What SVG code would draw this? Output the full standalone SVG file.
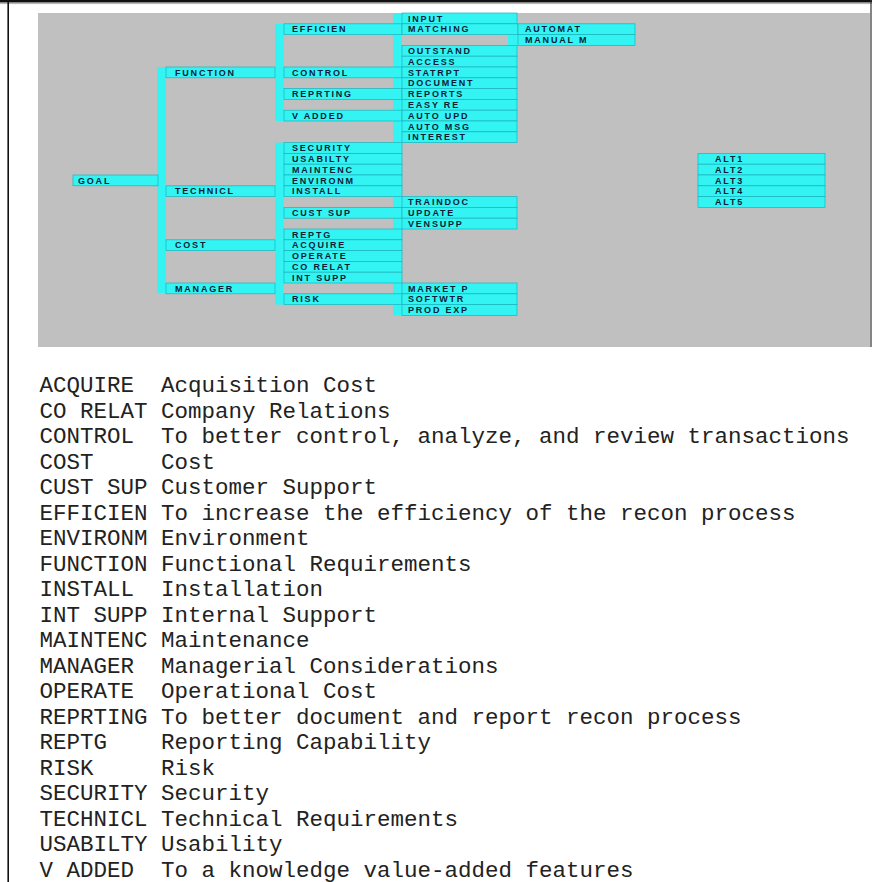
<svg xmlns="http://www.w3.org/2000/svg" width="872" height="882" viewBox="0 0 872 882">
<style>
.row{fill:#33f3f3;stroke:#19b4bc;stroke-width:0.7}
.bar{fill:#33f3f3}
.lbl{font-family:"Liberation Sans",Arial,sans-serif;font-size:9px;font-weight:bold;letter-spacing:1.8px;fill:#0d1d38}
.code,.desc{font-family:"Liberation Mono","Courier New",monospace;font-size:22.5px;fill:#222}
</style>
<rect x="0" y="0" width="872" height="882" fill="#ffffff"/>
<!-- frame -->
<rect x="0" y="0" width="872" height="2.5" fill="#111"/>
<line x1="0" y1="3.6" x2="872" y2="3.6" stroke="#9a9a9a" stroke-width="0.8"/>
<line x1="8.2" y1="0" x2="8.2" y2="882" stroke="#111" stroke-width="1.6"/>
<line x1="871" y1="0" x2="871" y2="347" stroke="#333" stroke-width="1.2"/>
<!-- gray panel -->
<rect x="38" y="13" width="832" height="334" fill="#c0c0c0"/>

<g id="connectors">
<rect class="bar" x="157" y="67" width="9" height="226"/>
<rect class="bar" x="275" y="23.8" width="9" height="97.2"/>
<rect class="bar" x="275" y="142.6" width="9" height="162"/>
<rect class="bar" x="393" y="13" width="9" height="129.6"/>
<rect class="bar" x="393" y="196.6" width="9" height="32.4"/>
<rect class="bar" x="393" y="283" width="9" height="32.4"/>
<rect class="bar" x="508" y="23.8" width="10" height="21.6"/>
</g>

<g id="goal"><rect class="row" x="73" y="175" width="85" height="10.8"/><text class="lbl" x="78" y="183.5">GOAL</text></g>

<g id="function"><rect class="row" x="166" y="67" width="109" height="10.8"/><text class="lbl" x="175" y="75.5">FUNCTION</text></g>
<g id="technicl"><rect class="row" x="166" y="185.8" width="109" height="10.8"/><text class="lbl" x="175" y="194.3">TECHNICL</text></g>
<g id="cost"><rect class="row" x="166" y="239.8" width="109" height="10.8"/><text class="lbl" x="175" y="248.3">COST</text></g>
<g id="manager"><rect class="row" x="166" y="283" width="109" height="10.8"/><text class="lbl" x="175" y="291.5">MANAGER</text></g>

<g id="efficien"><rect class="row" x="284" y="23.8" width="118" height="10.8"/><text class="lbl" x="292" y="32.3">EFFICIEN</text></g>
<g id="control"><rect class="row" x="284" y="67" width="118" height="10.8"/><text class="lbl" x="292" y="75.5">CONTROL</text></g>
<g id="reprting"><rect class="row" x="284" y="88.6" width="118" height="10.8"/><text class="lbl" x="292" y="97.1">REPRTING</text></g>
<g id="v_added"><rect class="row" x="284" y="110.2" width="118" height="10.8"/><text class="lbl" x="292" y="118.7">V ADDED</text></g>
<g id="security"><rect class="row" x="284" y="142.6" width="118" height="10.8"/><text class="lbl" x="292" y="151.1">SECURITY</text></g>
<g id="usabilty"><rect class="row" x="284" y="153.4" width="118" height="10.8"/><text class="lbl" x="292" y="161.9">USABILTY</text></g>
<g id="maintenc"><rect class="row" x="284" y="164.2" width="118" height="10.8"/><text class="lbl" x="292" y="172.7">MAINTENC</text></g>
<g id="environm"><rect class="row" x="284" y="175" width="118" height="10.8"/><text class="lbl" x="292" y="183.5">ENVIRONM</text></g>
<g id="install"><rect class="row" x="284" y="185.8" width="118" height="10.8"/><text class="lbl" x="292" y="194.3">INSTALL</text></g>
<g id="cust_sup"><rect class="row" x="284" y="207.4" width="118" height="10.8"/><text class="lbl" x="292" y="215.9">CUST SUP</text></g>
<g id="reptg"><rect class="row" x="284" y="229" width="118" height="10.8"/><text class="lbl" x="292" y="237.5">REPTG</text></g>
<g id="acquire"><rect class="row" x="284" y="239.8" width="118" height="10.8"/><text class="lbl" x="292" y="248.3">ACQUIRE</text></g>
<g id="operate"><rect class="row" x="284" y="250.6" width="118" height="10.8"/><text class="lbl" x="292" y="259.1">OPERATE</text></g>
<g id="co_relat"><rect class="row" x="284" y="261.4" width="118" height="10.8"/><text class="lbl" x="292" y="269.9">CO RELAT</text></g>
<g id="int_supp"><rect class="row" x="284" y="272.2" width="118" height="10.8"/><text class="lbl" x="292" y="280.7">INT SUPP</text></g>
<g id="risk"><rect class="row" x="284" y="293.8" width="118" height="10.8"/><text class="lbl" x="292" y="302.3">RISK</text></g>

<g id="input"><rect class="row" x="402" y="13" width="115" height="10.8"/><text class="lbl" x="408" y="21.5">INPUT</text></g>
<g id="matching"><rect class="row" x="402" y="23.8" width="116" height="10.8"/><text class="lbl" x="408" y="32.3">MATCHING</text></g>
<g id="outstand"><rect class="row" x="402" y="45.4" width="115" height="10.8"/><text class="lbl" x="408" y="53.9">OUTSTAND</text></g>
<g id="access"><rect class="row" x="402" y="56.2" width="115" height="10.8"/><text class="lbl" x="408" y="64.7">ACCESS</text></g>
<g id="statrpt"><rect class="row" x="402" y="67" width="115" height="10.8"/><text class="lbl" x="408" y="75.5">STATRPT</text></g>
<g id="document"><rect class="row" x="402" y="77.8" width="115" height="10.8"/><text class="lbl" x="408" y="86.3">DOCUMENT</text></g>
<g id="reports"><rect class="row" x="402" y="88.6" width="115" height="10.8"/><text class="lbl" x="408" y="97.1">REPORTS</text></g>
<g id="easy_re"><rect class="row" x="402" y="99.4" width="115" height="10.8"/><text class="lbl" x="408" y="107.9">EASY RE</text></g>
<g id="auto_upd"><rect class="row" x="402" y="110.2" width="115" height="10.8"/><text class="lbl" x="408" y="118.7">AUTO UPD</text></g>
<g id="auto_msg"><rect class="row" x="402" y="121" width="115" height="10.8"/><text class="lbl" x="408" y="129.5">AUTO MSG</text></g>
<g id="interest"><rect class="row" x="402" y="131.8" width="115" height="10.8"/><text class="lbl" x="408" y="140.3">INTEREST</text></g>
<g id="traindoc"><rect class="row" x="402" y="196.6" width="115" height="10.8"/><text class="lbl" x="408" y="205.1">TRAINDOC</text></g>
<g id="update"><rect class="row" x="402" y="207.4" width="115" height="10.8"/><text class="lbl" x="408" y="215.9">UPDATE</text></g>
<g id="vensupp"><rect class="row" x="402" y="218.2" width="115" height="10.8"/><text class="lbl" x="408" y="226.7">VENSUPP</text></g>
<g id="market_p"><rect class="row" x="402" y="283" width="115" height="10.8"/><text class="lbl" x="408" y="291.5">MARKET P</text></g>
<g id="softwtr"><rect class="row" x="402" y="293.8" width="115" height="10.8"/><text class="lbl" x="408" y="302.3">SOFTWTR</text></g>
<g id="prod_exp"><rect class="row" x="402" y="304.6" width="115" height="10.8"/><text class="lbl" x="408" y="313.1">PROD EXP</text></g>

<g id="automat"><rect class="row" x="518" y="23.8" width="117" height="10.8"/><text class="lbl" x="525" y="32.3">AUTOMAT</text></g>
<g id="manual_m"><rect class="row" x="518" y="34.6" width="117" height="10.8"/><text class="lbl" x="525" y="43.1">MANUAL M</text></g>

<g id="alt1"><rect class="row" x="698" y="153.4" width="127" height="10.8"/><text class="lbl" x="715" y="161.9">ALT1</text></g>
<g id="alt2"><rect class="row" x="698" y="164.2" width="127" height="10.8"/><text class="lbl" x="715" y="172.7">ALT2</text></g>
<g id="alt3"><rect class="row" x="698" y="175" width="127" height="10.8"/><text class="lbl" x="715" y="183.5">ALT3</text></g>
<g id="alt4"><rect class="row" x="698" y="185.8" width="127" height="10.8"/><text class="lbl" x="715" y="194.3">ALT4</text></g>
<g id="alt5"><rect class="row" x="698" y="196.6" width="127" height="10.8"/><text class="lbl" x="715" y="205.1">ALT5</text></g>

<g id="legend">
<text class="code" x="39.5" y="392">ACQUIRE</text><text class="desc" x="161" y="392">Acquisition Cost</text>
<text class="code" x="39.5" y="417.5">CO RELAT</text><text class="desc" x="161" y="417.5">Company Relations</text>
<text class="code" x="39.5" y="443">CONTROL</text><text class="desc" x="161" y="443">To better control, analyze, and review transactions</text>
<text class="code" x="39.5" y="468.5">COST</text><text class="desc" x="161" y="468.5">Cost</text>
<text class="code" x="39.5" y="494">CUST SUP</text><text class="desc" x="161" y="494">Customer Support</text>
<text class="code" x="39.5" y="519.5">EFFICIEN</text><text class="desc" x="161" y="519.5">To increase the efficiency of the recon process</text>
<text class="code" x="39.5" y="545">ENVIRONM</text><text class="desc" x="161" y="545">Environment</text>
<text class="code" x="39.5" y="570.5">FUNCTION</text><text class="desc" x="161" y="570.5">Functional Requirements</text>
<text class="code" x="39.5" y="596">INSTALL</text><text class="desc" x="161" y="596">Installation</text>
<text class="code" x="39.5" y="621.5">INT SUPP</text><text class="desc" x="161" y="621.5">Internal Support</text>
<text class="code" x="39.5" y="647">MAINTENC</text><text class="desc" x="161" y="647">Maintenance</text>
<text class="code" x="39.5" y="672.5">MANAGER</text><text class="desc" x="161" y="672.5">Managerial Considerations</text>
<text class="code" x="39.5" y="698">OPERATE</text><text class="desc" x="161" y="698">Operational Cost</text>
<text class="code" x="39.5" y="723.5">REPRTING</text><text class="desc" x="161" y="723.5">To better document and report recon process</text>
<text class="code" x="39.5" y="749">REPTG</text><text class="desc" x="161" y="749">Reporting Capability</text>
<text class="code" x="39.5" y="774.5">RISK</text><text class="desc" x="161" y="774.5">Risk</text>
<text class="code" x="39.5" y="800">SECURITY</text><text class="desc" x="161" y="800">Security</text>
<text class="code" x="39.5" y="825.5">TECHNICL</text><text class="desc" x="161" y="825.5">Technical Requirements</text>
<text class="code" x="39.5" y="851">USABILTY</text><text class="desc" x="161" y="851">Usability</text>
<text class="code" x="39.5" y="876.5">V ADDED</text><text class="desc" x="161" y="876.5">To a knowledge value-added features</text>
</g>
</svg>
